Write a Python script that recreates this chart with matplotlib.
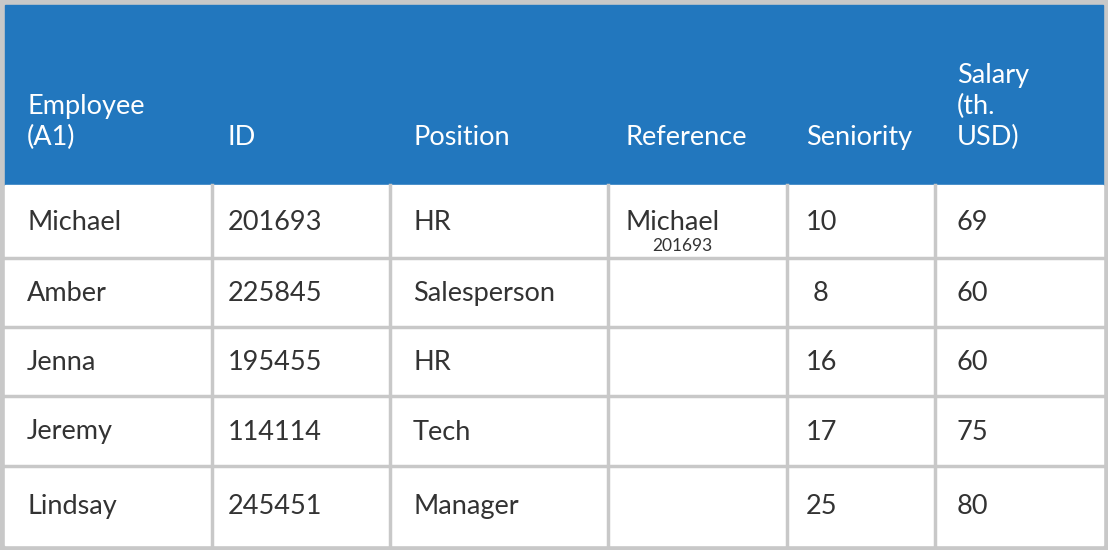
import matplotlib
matplotlib.use("Agg")
import matplotlib.pyplot as plt
from matplotlib.patches import Rectangle

headers = ["Employee\n(A1)", "ID", "Position", "Reference", "Seniority", "Salary\n(th.\nUSD)"]
employees = ["Michael", "Amber", "Jenna", "Jeremy", "Lindsay"]
ids = ["201693", "225845", "195455", "114114", "245451"]
positions = ["HR", "Salesperson", "HR", "Tech", "Manager"]
reference = ["Michael\n201693", "", "", "", ""]
seniority = ["10", " 8", "16", "17", "25"]
salary = ["69", "60", "60", "75", "80"]

col_edges = [5, 212, 390, 608, 787, 935, 1103]
row_edges = [185, 258, 327, 396, 466, 545]
text_x = [27, 228, 413, 626, 806, 957]
blue = "#2277BE"
grid = "#C8C8C8"
ink = "#333333"

fig = plt.figure(figsize=(11.08, 5.5), dpi=100)
ax = fig.add_axes([0, 0, 1, 1])
ax.set_xlim(0, 1108); ax.set_ylim(550, 0); ax.axis("off")
ax.add_patch(Rectangle((0, 0), 1108, 550, color=grid))
ax.add_patch(Rectangle((5, 5), 1098, 180, color=blue))
ax.add_patch(Rectangle((5, 185), 1098, 360, color="white"))
fam = ["Lato", "DejaVu Sans"]
for x, h in zip(text_x, headers):
    ax.text(x, 150, h, color="white", fontsize=19.5, family=fam, va="bottom", ha="left", linespacing=1.3)
for x in col_edges[1:-1]:
    ax.plot([x, x], [185, 545], color=grid, lw=2.5)
for y in row_edges[1:-1]:
    ax.plot([5, 1103], [y, y], color=grid, lw=2.5)
cols = [employees, ids, positions, reference, seniority, salary]
for ci, col in enumerate(cols):
    for ri, v in enumerate(col):
        yc = (row_edges[ri] + row_edges[ri + 1]) / 2 + 1
        if ci == 3 and v:
            a, b = v.split("\n")
            ax.text(text_x[ci], 223, a, color=ink, fontsize=19.5, family=fam, va="center")
            ax.text(682, 246, b, color=ink, fontsize=12.5, family=fam, va="center", ha="center")
        else:
            ax.text(text_x[ci], yc, v, color=ink, fontsize=19.5, family=fam, va="center")
fig.savefig("out.png", dpi=100)
